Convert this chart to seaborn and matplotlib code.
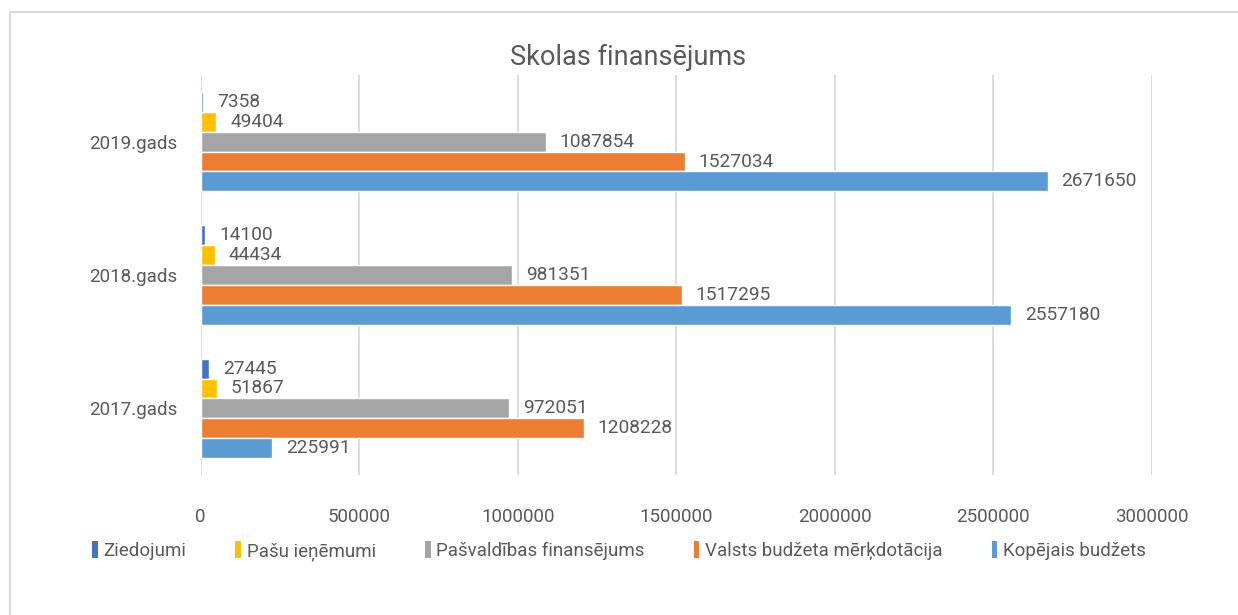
import matplotlib
matplotlib.use('Agg')
import numpy as np
import pandas as pd
import seaborn as sns
import matplotlib.pyplot as plt
from matplotlib.patches import Patch
from matplotlib.lines import Line2D

# ---- data ----
years = ['2019.gads', '2018.gads', '2017.gads']
series = ['Ziedojumi', 'Pašu ieņēmumi', 'Pašvaldības finansējums',
          'Valsts budžeta mērķdotācija', 'Kopējais budžets']
ziedojumi = [7358, 14100, 27445]
pasu_ienemumi = [49404, 44434, 51867]
pasvaldibas = [1087854, 981351, 972051]
valsts = [1527034, 1517295, 1208228]
kopejais = [2671650, 2557180, 225991]
xticks = [0, 500000, 1000000, 1500000, 2000000, 2500000, 3000000]
title = 'Skolas finansējums'

colors = ['#4472C4', '#FFC000', '#A5A5A5', '#ED7D31', '#5B9BD5']
values = [ziedojumi, pasu_ienemumi, pasvaldibas, valsts, kopejais]
rows = []
for s, vals in zip(series, values):
    for y, v in zip(years, vals):
        rows.append({'year': y, 'series': s, 'value': v})
df = pd.DataFrame(rows)

sns.set_theme(style='white')
plt.rcParams['font.family'] = ['Roboto', 'DejaVu Sans']
txt = '#595959'

fig = plt.figure(figsize=(12.38, 6.15), dpi=100)
ax = fig.add_axes([200.7 / 1238, 1 - 475 / 615, 951 / 1238, 400 / 615])

sns.barplot(data=df, x='value', y='year', hue='series', order=years,
            hue_order=series, palette=colors, width=0.745, orient='h',
            saturation=1, legend=False, ax=ax)

for cont in ax.containers:
    ax.bar_label(cont, labels=[f'{int(v)}' for v in cont.datavalues],
                 padding=10, fontsize=13.8, color=txt)

ax.set_xlim(0, 3000000)
ax.set_ylim(2.5, -0.5)
ax.set_xticks(xticks)
ax.set_xticklabels([str(t) for t in xticks])
ax.set_xlabel('')
ax.set_ylabel('')
ax.xaxis.grid(True, color='#D9D9D9', lw=1.3)
ax.yaxis.grid(False)
ax.set_axisbelow(True)
for sp in ax.spines.values():
    sp.set_visible(False)
ax.tick_params(axis='x', length=0, pad=24, labelsize=13.5, labelcolor=txt)
ax.tick_params(axis='y', length=0, pad=17, labelsize=13.5, labelcolor=txt)

fig.text(628 / 1238, 1 - 57 / 615, title, ha='center', va='center',
         fontsize=19.5, color=txt)

handles = [Patch(facecolor=c, edgecolor='none') for c in colors]
fig.legend(handles, series, loc='center', bbox_to_anchor=(619 / 1238, 1 - 551 / 615),
           ncol=5, frameon=False, fontsize=13.5, handlelength=0.3, handleheight=1.0,
           handletextpad=0.3, columnspacing=2.62, labelcolor=txt)

fig.add_artist(Line2D([10 / 1238, 10 / 1238, 1.0], [0, 1 - 12 / 615, 1 - 12 / 615],
                      transform=fig.transFigure, color='#D9D9D9', lw=1.5))

fig.savefig('out.png', dpi=100)
